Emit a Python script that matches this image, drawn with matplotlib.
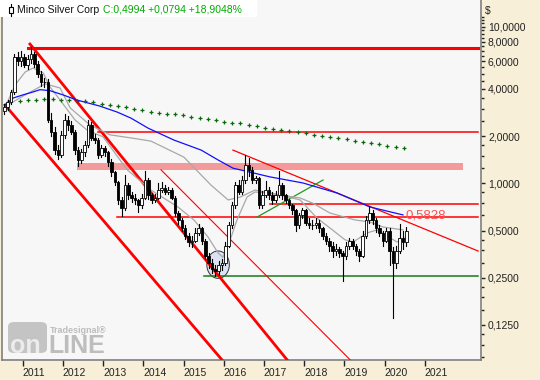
import numpy as np
import pandas as pd
import matplotlib
matplotlib.use("Agg")
import matplotlib.pyplot as plt
from matplotlib.patches import Rectangle, FancyBboxPatch
from matplotlib.lines import Line2D

plt.rcParams["font.family"] = ["Liberation Sans", "DejaVu Sans"]

# ── monthly bars, Jul 2010 .. Jul 2020 ─────────────────────────────
months = pd.date_range("2010-07-01", periods=121, freq="MS")
first_open = 2.90
close = [3.05, 3.28, 3.80, 6.40, 6.00, 6.40, 5.70, 6.20, 6.70, 5.80,
         4.97, 4.40, 4.45, 2.55, 2.14, 1.64, 1.52, 2.04, 2.55, 2.37,
         2.14, 1.64, 1.41, 1.58, 1.76, 2.37, 1.96, 1.90, 1.52, 1.68,
         1.58, 1.37, 1.18, 1.02, 0.78, 0.70, 0.975, 0.84, 0.81, 0.78,
         0.725, 0.81, 1.05, 0.84, 0.78, 0.81, 0.905, 0.93, 0.88, 0.905,
         0.81, 0.65, 0.58, 0.52, 0.465, 0.42, 0.43, 0.485, 0.52, 0.43,
         0.346, 0.31, 0.285, 0.277, 0.30, 0.31, 0.40, 0.54, 0.725, 0.975,
         0.88, 1.05, 1.31, 1.22, 1.05, 1.08, 0.725, 0.84, 0.905, 0.84,
         0.78, 0.84, 0.975, 0.84, 0.78, 0.725, 0.673, 0.54, 0.625, 0.673,
         0.56, 0.54, 0.54, 0.56, 0.52, 0.465, 0.43, 0.40, 0.373, 0.38,
         0.36, 0.346, 0.40, 0.43, 0.40, 0.373, 0.346, 0.465, 0.58, 0.65,
         0.58, 0.52, 0.485, 0.43, 0.50, 0.373, 0.31, 0.373, 0.445, 0.42,
         0.4994]
high = [3.20, 3.40, 3.95, 6.70, 6.90, 7.00, 6.70, 6.60, 7.40, 6.90,
        6.00, 5.20, 4.70, 4.60, 2.80, 2.30, 1.75, 2.15, 2.75, 2.70,
        2.50, 2.20, 1.70, 1.65, 1.85, 2.55, 2.45, 2.05, 1.95, 1.75,
        1.72, 1.62, 1.42, 1.20, 1.04, 0.82, 1.13, 1.00, 0.88, 0.86,
        0.80, 0.85, 1.20, 1.08, 0.87, 0.86, 1.00, 1.02, 0.97, 0.95,
        0.93, 0.83, 0.67, 0.60, 0.54, 0.48, 0.46, 0.52, 0.55, 0.53,
        0.44, 0.36, 0.33, 0.30, 0.32, 0.33, 0.42, 0.57, 0.76, 1.02,
        1.05, 1.12, 1.52, 1.45, 1.28, 1.12, 1.10, 0.90, 1.03, 0.95,
        0.88, 0.90, 1.20, 1.00, 0.86, 0.80, 0.74, 0.69, 0.65, 0.70,
        0.69, 0.60, 0.58, 0.60, 0.58, 0.53, 0.48, 0.45, 0.42, 0.41,
        0.39, 0.37, 0.42, 0.45, 0.44, 0.41, 0.38, 0.50, 0.62, 0.72,
        0.68, 0.60, 0.54, 0.50, 0.52, 0.52, 0.39, 0.40, 0.55, 0.50,
        0.53]
low = [2.75, 2.95, 3.20, 3.70, 5.70, 5.60, 5.50, 5.40, 5.90, 5.50,
       4.80, 4.20, 4.10, 2.45, 2.00, 1.55, 1.42, 1.48, 1.95, 2.20,
       2.05, 1.55, 1.30, 1.35, 1.50, 1.70, 1.90, 1.80, 1.45, 1.48,
       1.50, 1.30, 1.12, 0.97, 0.74, 0.62, 0.68, 0.80, 0.76, 0.74,
       0.66, 0.70, 0.79, 0.80, 0.75, 0.76, 0.79, 0.88, 0.85, 0.86,
       0.79, 0.62, 0.55, 0.50, 0.44, 0.40, 0.39, 0.42, 0.47, 0.41,
       0.33, 0.29, 0.27, 0.255, 0.26, 0.28, 0.30, 0.39, 0.52, 0.70,
       0.85, 0.86, 1.00, 1.12, 1.00, 1.00, 0.70, 0.70, 0.82, 0.80,
       0.74, 0.76, 0.82, 0.80, 0.75, 0.70, 0.64, 0.50, 0.52, 0.60,
       0.54, 0.52, 0.51, 0.52, 0.49, 0.44, 0.41, 0.37, 0.34, 0.35,
       0.34, 0.24, 0.33, 0.38, 0.38, 0.35, 0.32, 0.34, 0.45, 0.56,
       0.55, 0.49, 0.46, 0.40, 0.42, 0.30, 0.138, 0.29, 0.36, 0.38,
       0.40]

# ── indicator lines (decimal year, price) ──────────────────────────
blue_t = [2010.56, 2010.76, 2011.01, 2011.26, 2011.43, 2011.68, 2012.00,
          2012.35, 2012.92, 2013.35, 2013.69, 2014.12, 2014.76, 2015.44,
          2015.86, 2016.23, 2016.65, 2017.15, 2017.97, 2018.82, 2019.64,
          2020.46]
blue_p = [3.16, 3.50, 3.67, 3.83, 3.96, 3.90, 3.67, 3.40, 3.11, 2.85, 2.61,
          2.25, 1.89, 1.63, 1.41, 1.25, 1.18, 1.10, 1.006, 0.868, 0.707,
          0.629]
gray_fast_t = [2010.61, 2010.81, 2011.06, 2011.26, 2011.51, 2011.68, 2011.93,
               2012.30, 2012.60, 2013.00, 2013.60, 2014.19, 2014.86, 2015.26,
               2015.61, 2015.86, 2015.98, 2016.16, 2016.33, 2016.58, 2016.78,
               2017.08, 2017.40, 2017.90, 2018.32, 2018.64, 2019.02, 2019.22,
               2019.57, 2019.81, 2020.14, 2020.31, 2020.51]
gray_fast_p = [3.25, 4.24, 5.13, 5.44, 5.06, 4.12, 3.40, 2.54, 2.19, 1.98,
               1.22, 0.907, 0.707, 0.584, 0.455, 0.360, 0.338, 0.436, 0.584,
               0.818, 0.881, 0.868, 0.843, 0.784, 0.601, 0.520, 0.436, 0.423,
               0.483, 0.505, 0.449, 0.423, 0.449]
gray_slow_t = [2010.63, 2011.06, 2011.56, 2011.93, 2012.18, 2012.67, 2013.17,
               2013.69, 2014.19, 2015.01, 2015.68, 2016.11, 2016.41, 2016.78,
               2017.40, 2017.90, 2018.22, 2018.64, 2019.27, 2019.64, 2019.96,
               2020.46]
gray_slow_p = [3.16, 3.67, 4.31, 4.06, 3.03, 2.36, 2.04, 1.95, 1.86, 1.47,
               0.977, 0.784, 0.818, 0.907, 0.843, 0.807, 0.747, 0.647, 0.584,
               0.567, 0.527, 0.505]
dots_p = [3.33, 3.38, 3.41, 3.43, 3.43, 3.41, 3.38, 3.35, 3.33, 3.28,
          3.21, 3.16, 3.10, 3.05, 3.00, 2.94, 2.87, 2.83, 2.79, 2.75,
          2.71, 2.65, 2.61, 2.57, 2.52, 2.48, 2.44, 2.41, 2.35, 2.32,
          2.27, 2.23, 2.20, 2.15, 2.12, 2.09, 2.04, 2.01, 1.98, 1.94,
          1.91, 1.87, 1.84, 1.81, 1.77, 1.74, 1.71, 1.67]
dots_t = np.linspace(2010.93, 2020.48, len(dots_p))

# drawn trend lines: (t0, p0, t1, p1)
channel_upper = (2011.18, 7.74, 2017.58, 0.0747)
channel_lower = (2010.56, 3.16, 2015.96, 0.0747)
parallel_thin = (2014.44, 1.22, 2019.15, 0.0747)
down_thin = (2016.23, 1.63, 2022.33, 0.37)
green_up = (2016.83, 0.61, 2018.47, 1.05)
# horizontal levels: (price, start)
h_thick = (7.34, 2011.13)
h_levels = [(2.14, 2012.88), (0.736, 2017.15), (0.613, 2013.35)]
support_green = (0.258, 2015.51)
zone = (1.22, 1.35, 2012.35, 2021.95)
line_end = 2022.33
last_level_txt = "0,5828"

y_major = [0.125, 0.25, 0.5, 1, 2, 4, 6, 8, 10]
y_labels = ["0,1250", "0,2500", "0,5000", "1,0000", "2,0000", "4,0000",
            "6,0000", "8,0000", "10,0000"]
years = list(range(2011, 2022))

RED = "#ff0000"
BEIGE = "#f7efd7"

fig = plt.figure(figsize=(5.4, 3.8), dpi=100, facecolor=BEIGE)
ax = fig.add_axes([2 / 540, 20 / 380, 479 / 540, 360 / 380])
ax.set_facecolor("#f7f7f7")
ax.set_yscale("log")
ax.set_xlim(2010.485, 2022.40)
ax.set_ylim(0.0747, 14.78)

# zone + levels
ax.add_patch(Rectangle((zone[2], zone[0]), zone[3] - zone[2], zone[1] - zone[0],
                       facecolor="#f59a9a", edgecolor="none", zorder=1))
ax.plot([h_thick[1], line_end], [h_thick[0]] * 2, color=RED, lw=2.2, zorder=3)
for lvl, start in h_levels:
    ax.plot([start, line_end], [lvl, lvl], color=RED, lw=1.1, zorder=3)
ax.plot([support_green[1], line_end], [support_green[0]] * 2,
        color="#1a7a1a", lw=1.1, zorder=3)

# trend lines
for ln, lw in [(channel_upper, 2.0), (channel_lower, 2.0), (parallel_thin, 0.8),
               (down_thin, 0.9)]:
    ax.plot([ln[0], ln[2]], [ln[1], ln[3]], color=RED, lw=lw, zorder=3)
ax.plot([green_up[0], green_up[2]], [green_up[1], green_up[3]],
        color="#1f9a1f", lw=0.9, zorder=3)

# highlight of the 2015 low
th = np.linspace(0, 2 * np.pi, 100)
ax.fill(2015.86 + 0.28 * np.cos(th), 0.303 * 2 ** (0.29 * np.sin(th)),
        facecolor="#dbe3f3", edgecolor="#333333", lw=0.7, zorder=2)

# moving averages
ax.plot(gray_slow_t, gray_slow_p, color="#a8a8a8", lw=0.9, zorder=3)
ax.plot(gray_fast_t, gray_fast_p, color="#a8a8a8", lw=0.9, zorder=3)
ax.plot(blue_t, blue_p, color="#1010ff", lw=0.9, zorder=3)
ax.plot(dots_t, dots_p, linestyle="none", marker="+", ms=3.0, mew=0.9,
        color="#0a6a0a", zorder=3)

# candles
t = months.year + (months.month - 0.5) / 12
opens = [first_open] + close[:-1]
bw = 0.065
for ti, o, h, l, c in zip(t, opens, high, low, close):
    ax.plot([ti, ti], [l, h], color="black", lw=0.8, zorder=4)
    lo, hi = min(o, c), max(o, c)
    ax.add_patch(Rectangle((ti - bw / 2, lo), bw, max(hi - lo, lo * 0.01),
                           facecolor="white" if c >= o else "black",
                           edgecolor="black", lw=0.6, zorder=5))

ax.text(2020.51, 0.596, last_level_txt, color="#ff5050", fontsize=9.5,
        va="baseline", ha="left", zorder=6)

# axes styling
for side in ["left", "bottom", "right"]:
    ax.spines[side].set_color("#808080")
    ax.spines[side].set_linewidth(1.2)
ax.spines["top"].set_visible(False)

ax.yaxis.tick_right()
ax.set_yticks(y_major)
ax.set_yticklabels(y_labels)
minors = []
for a in [0.0625, 0.125, 0.25, 0.5, 1]:
    minors += [a * 1.25, a * 1.5, a * 1.75]
minors += [2.5, 3, 3.5, 4.5, 5, 5.5, 6.5, 7, 7.5, 8.5, 9, 9.5, 10.5, 11, 11.5]
ax.set_yticks(minors, minor=True)
ax.yaxis.set_minor_formatter(matplotlib.ticker.NullFormatter())
ax.tick_params(axis="y", which="major", length=3, width=1, pad=2,
               labelsize=7.5, colors="#222222")
ax.tick_params(axis="y", which="minor", length=2, width=1, colors="#222222")

ax.set_xticks(years)
ax.set_xticklabels([str(y) for y in years], ha="left")
ax.tick_params(axis="x", which="major", length=4, width=1, pad=2,
               labelsize=7.5, colors="#222222")

# header
fig.add_artist(Rectangle((0, 1 - 17 / 380), 257 / 540, 17 / 380,
                         transform=fig.transFigure, facecolor="white",
                         edgecolor="none", zorder=5))
fig.add_artist(Line2D([11 / 540, 11 / 540], [1 - 16 / 380, 1 - 4 / 380],
                      transform=fig.transFigure, color="black", lw=0.8, zorder=6))
fig.add_artist(Rectangle((9 / 540, 1 - 13 / 380), 4 / 540, 6 / 380,
                         transform=fig.transFigure, facecolor="white",
                         edgecolor="black", lw=0.8, zorder=7))
fig.text(17 / 540, 1 - 10 / 380, "Minco Silver Corp", fontsize=7.5,
         va="center", color="#111111", zorder=8)
fig.text(103 / 540, 1 - 10 / 380, "C:0,4994 +0,0794 +18,9048%", fontsize=7.5,
         va="center", color="#00aa00", zorder=8)
fig.text(485 / 540, 1 - 11 / 380, "$", fontsize=7.5, va="center",
         color="#222222")

# watermark
fig.add_artist(FancyBboxPatch((8 / 540, 1 - 353 / 380), 39 / 540, 31 / 380,
                              boxstyle="round,pad=0,rounding_size=0.012",
                              transform=fig.transFigure, facecolor="#c4c4c4",
                              edgecolor="none", zorder=5))
fig.text(10 / 540, 1 - 353 / 380, "on", fontsize=18, fontweight="bold",
         color="#ececec", va="baseline", zorder=6)
fig.text(48 / 540, 1 - 353 / 380, "LINE", fontsize=18, fontweight="bold",
         color="#bdbdbd", va="baseline", zorder=6)
fig.text(50 / 540, 1 - 333 / 380, "Tradesignal\u00ae", fontsize=6.5,
         fontweight="bold", color="#bdbdbd", va="baseline", zorder=6)

fig.savefig("out.png", dpi=100, facecolor=BEIGE)
